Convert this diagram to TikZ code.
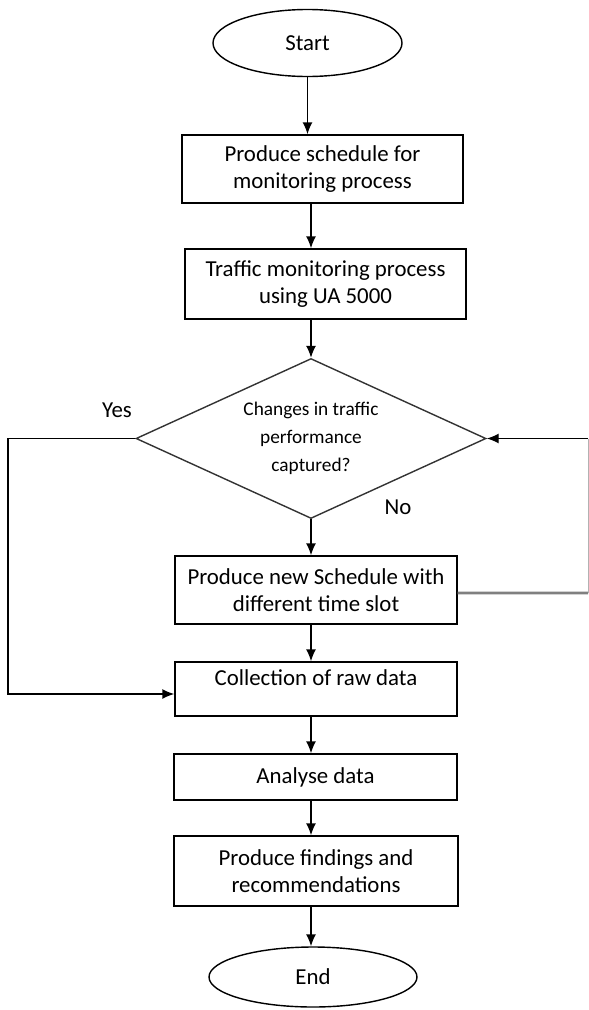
\documentclass[tikz,border=0pt]{standalone}
\usepackage{fontspec}
\setmainfont{Carlito}
\usetikzlibrary{shapes.geometric,arrows.meta}

\begin{document}
\begin{tikzpicture}[
    font=\fontsize{13}{15.5}\selectfont,
    box/.style={rectangle, draw, thick, minimum width=5.64cm, minimum height=1.36cm, align=center},
    terminal/.style={ellipse, draw, thick, minimum width=3.78cm, minimum height=1.34cm},
    decision/.style={diamond, draw=black!80, thick, aspect=2.1875, minimum width=7cm, minimum height=3.2cm, align=center, inner sep=0pt, font=\fontsize{11}{16}\selectfont},
    arrow/.style={-{Latex[length=2.4mm,width=2mm]}, thick}
]
\useasboundingbox (0,0) rectangle (11.78,-20.2);

% Start and planning
\node[terminal] (start) at (6.15,-0.86) {Start};
\node[box, minimum width=5.62cm] (schedule) at (6.45,-3.38) {Produce schedule for\\monitoring process};
\node[box, minimum width=5.62cm, minimum height=1.4cm] (monitor) at (6.51,-5.68) {Traffic monitoring process\\using UA 5000};

% Decision
\node[decision] (changes) at (6.22,-8.77) {Changes in traffic\\performance\\captured?};
\node (yes) at (2.34,-8.2) {Yes};
\node (no) at (7.96,-10.14) {No};
\node[box] (newsched) at (6.32,-11.8) {Produce new Schedule with\\different time slot};

% Data handling
\node[box, minimum height=1.08cm, text depth=0.45cm] (collect) at (6.32,-13.78) {Collection of raw data};
\node[box, minimum width=5.66cm, minimum height=0.92cm] (analyse) at (6.31,-15.54) {Analyse data};
\node[box, minimum width=5.68cm, minimum height=1.4cm] (findings) at (6.32,-17.42) {Produce findings and\\recommendations};
\node[terminal, minimum width=4.16cm, minimum height=1.2cm] (end) at (6.26,-19.54) {End};

% Arrows
\draw[arrow] (start.south) -- (start.south |- schedule.north);
\draw[arrow] (schedule.south -| changes) -- (monitor.north -| changes);
\draw[arrow] (monitor.south -| changes) -- (changes.north);
\draw[arrow] (changes.south) -- (newsched.north -| changes);
\draw[arrow] (newsched.south -| changes) -- (collect.north -| changes);
\draw[arrow] (collect.south -| changes) -- (analyse.north -| changes);
\draw[arrow] (analyse.south -| changes) -- (findings.north -| changes);
\draw[arrow] (findings.south -| changes) -- (end.north -| changes);

% Loops
\coordinate (yesbend) at (0.16,-8.77);
\draw[arrow] (changes.west) -- (yesbend) |- ([yshift=-1mm]collect.west);
\coordinate (nobend) at (11.76,-11.86);
\draw[gray, line width=1.5pt] ([yshift=-0.6mm]newsched.east) -- (nobend);
\draw[gray!60] (nobend) -- (nobend |- changes.east);
\draw[arrow] (nobend |- changes.east) -- (changes.east);
\end{tikzpicture}
\end{document}
